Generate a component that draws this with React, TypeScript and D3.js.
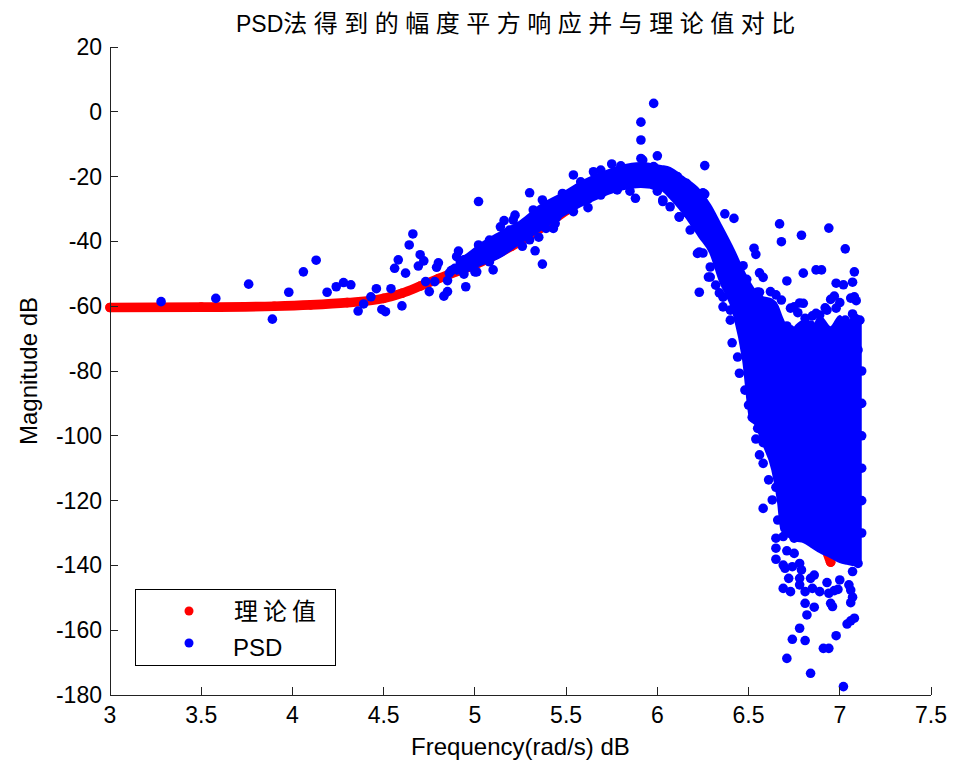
import React from 'react';
import * as d3 from 'd3';

// ---------- data ----------
const xTicks = [3, 3.5, 4, 4.5, 5, 5.5, 6, 6.5, 7, 7.5];
const yTicks = [20, 0, -20, -40, -60, -80, -100, -120, -140, -160, -180];

// theoretical magnitude-squared response (red)
const theoryFreq = [3.0, 3.5, 3.9, 4.1, 4.3, 4.5, 4.6, 4.7, 4.8, 4.9, 5.0, 5.1, 5.2, 5.3, 5.4, 5.5, 5.6, 5.7, 5.8, 5.9, 6.0, 6.1, 6.2, 6.3, 6.4, 6.5, 6.6, 6.7, 6.8, 6.9, 6.95];
const theoryMag = [-60.4, -60.3, -60.0, -59.6, -58.9, -57.6, -56.0, -53.8, -51.5, -49.3, -47.2, -44.5, -41.5, -38.2, -34.5, -30.5, -26.5, -23.0, -20.5, -19.3, -19.5, -21.0, -26.0, -35.0, -47.0, -61.0, -76.0, -93.0, -111.0, -131.0, -139.0];

// region where the PSD points overlap into a solid mass
const denseFreq = [4.9, 4.95, 5.03, 5.14, 5.25, 5.36, 5.47, 5.58, 5.69, 5.8, 5.91, 6.02, 6.07, 6.14, 6.23, 6.29, 6.34, 6.42, 6.47, 6.51, 6.54, 6.57, 6.63, 6.66, 6.68, 6.73, 6.76, 6.8, 6.85, 6.89, 6.95, 7.0, 7.04, 7.08, 7.115];
const denseUpper = [-45.5, -44.2, -40.8, -37.1, -33.7, -28.8, -25.4, -21.7, -18.9, -16.7, -15.8, -16.7, -17.3, -20.1, -24.1, -28.8, -34.0, -42.7, -48.8, -53.0, -55.5, -57.0, -58.0, -60.0, -63.0, -68.0, -66.0, -64.5, -66.5, -63.0, -66.5, -63.0, -65.5, -62.5, -63.5];
const denseLower = [-50.0, -49.4, -47.3, -44.8, -40.5, -36.5, -32.5, -29.1, -26.3, -24.1, -23.2, -24.1, -26.6, -31.2, -38.6, -43.6, -51.9, -62.7, -76.6, -95.1, -96.7, -101.3, -110.6, -119.8, -129.1, -131.5, -132.3, -132.8, -134.5, -135.9, -137.5, -139.0, -139.5, -139.9, -138.3];

// PSD estimate, individual points [freq, magnitude]
const psdLow: [number, number][] = [
  [3.28, -58.6], [3.58, -57.6], [3.76, -53.2], [3.89, -64.0], [3.98, -55.7], [4.06, -49.4], [4.13, -45.8],
  [4.19, -55.7], [4.24, -54.0], [4.28, -52.7], [4.32, -53.4], [4.36, -61.5], [4.39, -59.3], [4.43, -57.1],
  [4.46, -54.6], [4.49, -61.0], [4.51, -61.7], [4.54, -54.6], [4.56, -48.3], [4.58, -45.7], [4.60, -59.9],
  [4.62, -49.8], [4.64, -41.1], [4.66, -37.7], [4.69, -47.6], [4.70, -44.1], [4.72, -46.0], [4.73, -52.4],
  [4.75, -55.5], [4.78, -52.4], [4.79, -48.0], [4.80, -46.6], [4.83, -56.9], [4.85, -55.5], [4.85, -52.1],
  [4.86, -49.8], [4.88, -48.8], [4.87, -49.0], [4.89, -48.3], [4.91, -43.0], [4.90, -44.7], [4.94, -50.1],
  [4.95, -54.0], [4.97, -46.8], [4.98, -45.2], [5.01, -49.4], [5.02, -41.1], [5.00, -49.4], [4.94, -45.7]
];
const psdBand: [number, number][] = [
  [5.02, -27.7], [5.10, -48.8], [5.16, -33.6], [5.22, -31.9], [5.30, -25.0], [5.35, -38.7], [5.33, -42.9],
  [5.37, -47.0], [5.43, -36.0], [5.37, -27.2], [5.54, -19.5], [5.65, -18.5], [5.75, -16.1], [5.62, -29.6],
  [5.88, -26.7], [5.91, -8.7], [5.92, -14.9], [5.98, 2.6], [5.91, -3.2], [6.00, -13.6], [6.12, -32.4],
  [6.22, -43.7], [6.26, -16.6], [6.26, -25.4], [6.37, -31.5], [6.42, -32.9], [6.23, -55.7],
  [5.48, -25.2], [5.58, -21.6], [5.69, -18.0], [5.80, -16.7], [5.91, -14.4], [5.98, -16.9], [6.05, -18.5],
  [6.11, -20.0], [6.16, -22.1], [5.69, -25.7], [5.78, -24.1], [5.98, -22.6], [6.03, -27.7], [6.07, -29.3],
  [5.45, -32.4], [5.54, -30.8], [5.39, -36.0], [5.19, -36.5], [5.14, -35.5], [5.08, -39.6], [5.32, -30.3],
  [5.21, -33.4], [5.07, -43.7], [5.08, -46.3], [5.26, -41.5], [5.30, -39.5], [5.44, -34.5], [5.52, -29.8],
  [5.62, -27.0], [5.85, -24.5], [6.00, -24.5], [6.25, -25.0], [6.27, -30.3], [6.30, -35.5], [6.33, -39.0],
  [6.36, -42.7], [6.39, -45.7], [6.43, -49.8], [6.46, -54.0], [6.03, -27.2], [6.12, -32.5], [6.18, -36.5],
  [6.23, -43.3], [6.29, -47.9], [6.29, -51.0], [6.34, -55.9], [6.36, -60.2], [6.40, -64.3], [6.16, -31.2],
  [6.25, -43.6], [6.28, -51.0], [6.32, -53.5], [6.36, -57.2], [6.40, -61.2], [6.44, -75.7]
];
const psdUpper: [number, number][] = [
  [6.67, -34.6], [6.94, -35.9], [6.68, -40.1], [6.79, -38.1], [7.03, -42.3], [6.53, -42.1], [6.54, -44.0],
  [6.47, -47.5], [6.49, -51.7], [6.45, -49.1], [6.56, -49.7], [6.58, -51.1], [6.71, -52.2], [6.80, -49.8],
  [6.87, -48.8], [6.90, -48.8], [7.08, -49.4], [6.98, -52.9], [7.02, -53.4], [7.07, -52.6], [6.56, -55.7],
  [6.62, -55.5], [6.65, -56.5], [6.68, -58.1], [6.60, -60.5], [6.95, -57.9], [7.00, -58.9], [7.08, -57.1],
  [7.09, -58.3], [7.07, -62.4], [6.75, -60.2], [6.80, -59.1], [6.77, -62.0], [6.87, -62.2], [6.93, -61.2],
  [6.98, -60.6], [6.92, -60.5], [6.81, -63.7], [6.85, -63.0], [6.89, -62.7], [6.71, -66.1], [6.61, -64.3],
  [6.64, -66.3], [6.56, -62.2], [6.67, -68.4], [6.41, -71.3], [6.45, -80.7], [7.09, -66.3], [6.73, -67.3],
  [6.84, -65.8], [6.95, -68.9], [7.03, -64.3], [7.11, -64.3], [6.60, -70.4], [6.89, -72.0], [7.06, -70.4],
  [7.10, -73.5], [6.48, -85.9], [6.50, -90.5], [6.73, -60.6], [6.78, -59.0], [6.55, -55.6], [6.97, -56.9],
  [7.06, -57.5]
];
const psdLower: [number, number][] = [
  [6.52, -94.3], [6.55, -97.7], [6.54, -101.0], [6.58, -102.1], [6.56, -105.9], [6.58, -108.5], [6.61, -113.6],
  [6.65, -115.9], [6.63, -119.8], [6.58, -122.4], [6.66, -126.0], [6.65, -131.6], [6.69, -131.1], [6.65, -134.7],
  [6.71, -135.5], [6.65, -138.1], [6.69, -139.9], [6.70, -140.9], [6.75, -131.6], [6.75, -136.3], [6.74, -140.4],
  [6.72, -144.0], [6.69, -147.1], [6.73, -148.1], [6.78, -139.4], [6.79, -141.4], [6.78, -146.0], [6.81, -148.1],
  [6.85, -147.1], [6.89, -148.1], [6.81, -151.7], [6.86, -152.9], [6.82, -155.3], [6.78, -159.4], [6.74, -162.8],
  [6.81, -163.2], [6.71, -168.7], [6.84, -173.3], [6.91, -165.6], [6.94, -165.6], [6.98, -161.7], [7.02, -177.4],
  [7.04, -158.1], [7.06, -157.1], [7.08, -156.3], [7.07, -149.8], [7.06, -151.5], [7.05, -146.0], [7.06, -147.6],
  [6.95, -151.7], [6.96, -152.7], [6.94, -148.6], [6.97, -147.8], [6.99, -147.4], [6.93, -145.3], [7.00, -144.5],
  [6.84, -144.0], [6.86, -143.0], [6.78, -144.0], [7.09, -137.3], [7.10, -139.4], [7.07, -141.9],
  [7.12, -80], [7.12, -90], [7.12, -100], [7.12, -110], [7.12, -120], [7.12, -130]
];

const titlePrefix = 'PSD';
const titleRest = '法得到的幅度平方响应并与理论值对比';
const xLabel = 'Frequency(rad/s) dB';
const yLabel = 'Magnitude dB';
const legendLabels = ['理论值', 'PSD'];

const RED = '#ff0000';
const BLUE = '#0000ff';
const LATIN = "'Liberation Sans', Arial, Helvetica, sans-serif";
const CJK = "'Noto Sans CJK SC', 'Noto Sans', sans-serif";

export default function App() {
  const W = 961, H = 761;
  const x = d3.scaleLinear().domain([3, 7.5]).range([110, 931]);
  const y = d3.scaleLinear().domain([-180, 20]).range([695, 47]);
  const R = 4.8;

  const theoryLine = d3.line<number>()
    .x((d) => x(d))
    .y((_, i) => y(theoryMag[i]))
    .curve(d3.curveMonotoneX)(theoryFreq) || '';

  const denseArea = d3.area<number>()
    .x((d) => x(d))
    .y0((_, i) => y(denseLower[i]))
    .y1((_, i) => y(denseUpper[i]))
    .curve(d3.curveMonotoneX)(denseFreq) || '';

  const psdAll = [...psdLow, ...psdBand, ...psdUpper, ...psdLower];
  const [x0, x1] = x.range();
  const [yb, yt] = y.range();

  return (
    <svg width={W} height={H} style={{ position: 'absolute', left: 0, top: 0, background: '#fff' }}
      fontFamily={LATIN}>
      <rect x={0} y={0} width={W} height={H} fill="#fff" />
      {/* theory series */}
      <path d={theoryLine} fill="none" stroke={RED} strokeWidth={R * 2} strokeLinecap="round" strokeLinejoin="round" />
      {theoryFreq.map((f, i) => (
        <circle key={'t' + i} cx={x(f)} cy={y(theoryMag[i])} r={R} fill={RED} />
      ))}
      {/* PSD series */}
      <path d={denseArea} fill={BLUE} stroke={BLUE} strokeWidth={2} strokeLinejoin="round" />
      {psdAll.map(([f, m], i) => (
        <circle key={'p' + i} cx={x(f)} cy={y(m)} r={R} fill={BLUE} />
      ))}

      {/* axes */}
      <g stroke="#222" strokeWidth={1} fill="none" shapeRendering="crispEdges">
        <line x1={x0} y1={yb} x2={x1} y2={yb} />
        <line x1={x0} y1={yb} x2={x0} y2={yt} />
        {xTicks.map((t) => (
          <line key={'xt' + t} x1={x(t)} x2={x(t)} y1={yb} y2={yb - 8} />
        ))}
        {yTicks.map((t) => (
          <line key={'yt' + t} x1={x0} x2={x0 + 8} y1={y(t)} y2={y(t)} />
        ))}
      </g>
      <g fontSize={23} fill="#000">
        {xTicks.map((t) => (
          <text key={'xl' + t} x={x(t)} y={723} textAnchor="middle">{String(t)}</text>
        ))}
        {yTicks.map((t) => (
          <text key={'yl' + t} x={102} y={y(t) + 8} textAnchor="end">{String(t)}</text>
        ))}
      </g>
      <text x={(x0 + x1) / 2} y={755} fontSize={24} textAnchor="middle">{xLabel}</text>
      <text transform={`translate(37,${(yb + yt) / 2}) rotate(-90)`} fontSize={24} textAnchor="middle">{yLabel}</text>

      {/* title */}
      <text x={236} y={32} fontSize={23}>
        <tspan>{titlePrefix}</tspan>
        <tspan fontFamily={CJK} fontSize={24} letterSpacing={6.5}>{titleRest}</tspan>
      </text>

      {/* legend */}
      <rect x={135} y={589} width={200} height={76} fill="#fff" stroke="#000" strokeWidth={1} shapeRendering="crispEdges" />
      <circle cx={189} cy={611} r={4.5} fill={RED} />
      <circle cx={189} cy={643} r={4.5} fill={BLUE} />
      <text x={234} y={620} fontFamily={CJK} fontSize={24} letterSpacing={5}>{legendLabels[0]}</text>
      <text x={233} y={656} fontSize={24}>{legendLabels[1]}</text>
    </svg>
  );
}
